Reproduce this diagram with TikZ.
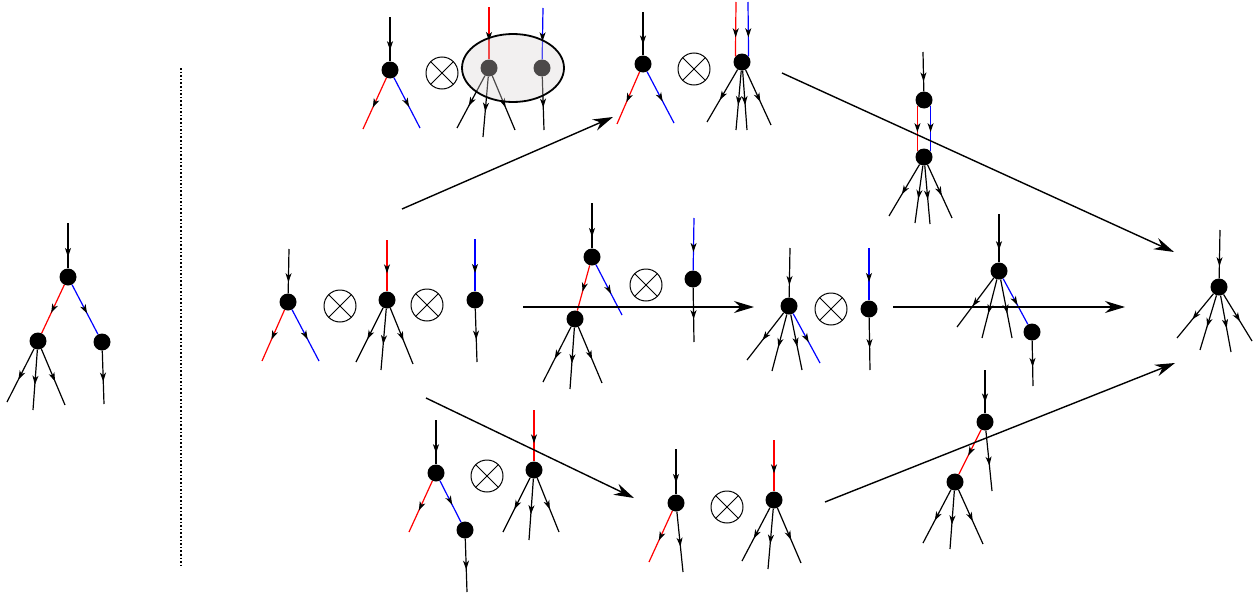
\documentclass[tikz,border=0pt]{standalone}
\usetikzlibrary{arrows.meta,decorations.markings,shapes.geometric}
\tikzset{
 dot/.style={circle,fill=black,inner sep=0pt,minimum size=17pt},
 ed/.style={line width=1.2pt,postaction={decorate},decoration={markings,mark=at position #1 with {\arrow[color=black]{Stealth[length=9pt,width=6pt,inset=2.5pt]}}}},
 ed/.default=0.58,
 edr/.style={ed=#1,draw=red},
 edr/.default=0.58,
 edb/.style={ed=#1,draw=blue},
 edb/.default=0.58,
 ox/.style={circle,draw,line width=1pt,minimum size=32pt,inner sep=0pt,
   path picture={\draw[line width=1pt] (path picture bounding box.north west) -- (path picture bounding box.south east) (path picture bounding box.north east) -- (path picture bounding box.south west);}},
 big/.style={line width=1.4pt,-{Stealth[length=20pt,width=12pt]}},
 blob/.style={ellipse,draw=black,line width=1.8pt,minimum width=102pt,minimum height=68pt,inner sep=0pt,
   fill={rgb,255:red,218;green,212;blue,212},fill opacity=0.35}
}
\begin{document}
\begin{tikzpicture}[x=1pt,y=-1pt]
\useasboundingbox (0,0) rectangle (1259,597);

% ---------- left tree ----------
\node[dot] (L0) at (68,277) {};
\node[dot] (L1) at (38,341) {};
\node[dot] (L2) at (102,342) {};
\coordinate (L0i) at (68,223);
\coordinate (L1a) at (7,402);
\coordinate (L1b) at (33,410);
\coordinate (L1c) at (65,405);
\coordinate (L2a) at (104,404);
\draw[ed=0.75] (L0i) -- (L0);
\draw[edr] (L0) -- (L1);
\draw[edb] (L0) -- (L2);
\draw[ed] (L1) -- (L1a);
\draw[ed] (L1) -- (L1b);
\draw[ed] (L1) -- (L1c);
\draw[ed] (L2) -- (L2a);

% dotted separator
\coordinate (d1) at (181,68);
\coordinate (d2) at (181,567);
\draw[dotted,line width=1.6pt] (d1) -- (d2);

% ---------- top row ----------
% tree A
\node[dot] (A0) at (390,70) {};
\coordinate (Ai) at (390,17);
\coordinate (Ar) at (363,129);
\coordinate (Ab) at (420,128);
\draw[ed=0.75] (Ai) -- (A0);
\draw[edr] (A0) -- (Ar);
\draw[edb] (A0) -- (Ab);
\node[ox] (ox1) at (442,73) {};
% trees under the blob
\node[dot] (P1) at (489,68) {};
\node[dot] (P2) at (542,68) {};
\coordinate (P1i) at (489,7);
\coordinate (P2i) at (543,8);
\coordinate (P1a) at (457,128);
\coordinate (P1b) at (483,137);
\coordinate (P1c) at (515,130);
\coordinate (P2a) at (544,130);
\draw[edr=0.65] (P1i) -- (P1);
\draw[edb=0.65] (P2i) -- (P2);
\draw[ed] (P1) -- (P1a);
\draw[ed] (P1) -- (P1b);
\draw[ed] (P1) -- (P1c);
\draw[ed] (P2) -- (P2a);
\node[blob] (blob) at (513,68) {};

% tree B
\node[dot] (B0) at (643,64) {};
\coordinate (Bi) at (643,12);
\coordinate (Br) at (617,124);
\coordinate (Bb) at (674,123);
\draw[ed=0.75] (Bi) -- (B0);
\draw[edr] (B0) -- (Br);
\draw[edb] (B0) -- (Bb);
\node[ox] (ox2) at (694,69) {};
\node[dot] (B1) at (742,62) {};
\coordinate (B1r) at (736,2);
\coordinate (B1b) at (748,2);
\coordinate (B1a) at (707,122);
\coordinate (B1c) at (736,130);
\coordinate (B1d) at (747,130);
\coordinate (B1e) at (771,125);
\draw[edr=0.65] (B1r) -- (B1.139);
\draw[edb=0.65] (B1b) -- (B1.41);
\draw[ed] (B1) -- (B1a);
\draw[ed] (B1) -- (B1c);
\draw[ed] (B1) -- (B1d);
\draw[ed] (B1) -- (B1e);

% tree C
\node[dot] (C0) at (924,100) {};
\node[dot] (C1) at (924,157) {};
\coordinate (Ci) at (923,52);
\coordinate (C1a) at (889,216);
\coordinate (C1b) at (915,223);
\coordinate (C1c) at (930,224);
\coordinate (C1d) at (952,218);
\draw[ed=0.75] (Ci) -- (C0);
\draw[edr] (C0.221) -- (C1.139);
\draw[edb] (C0.-41) -- (C1.41);
\draw[ed] (C1) -- (C1a);
\draw[ed] (C1) -- (C1b);
\draw[ed] (C1) -- (C1c);
\draw[ed] (C1) -- (C1d);

% ---------- middle row ----------
% tree D
\node[dot] (D0) at (288,302) {};
\coordinate (Di) at (289,249);
\coordinate (Dr) at (262,361);
\coordinate (Db) at (319,361);
\draw[ed=0.75] (Di) -- (D0);
\draw[edr] (D0) -- (Dr);
\draw[edb] (D0) -- (Db);
\node[ox] (ox3) at (340,306) {};
\node[dot] (D1) at (387,300) {};
\coordinate (D1i) at (387,240);
\coordinate (D1a) at (356,362);
\coordinate (D1b) at (381,370);
\coordinate (D1c) at (413,364);
\draw[edr=0.65] (D1i) -- (D1);
\draw[ed] (D1) -- (D1a);
\draw[ed] (D1) -- (D1b);
\draw[ed] (D1) -- (D1c);
\node[ox] (ox4) at (427,305) {};
\node[dot] (D2) at (475,300) {};
\coordinate (D2i) at (475,239);
\coordinate (D2o) at (477,362);
\draw[edb=0.65] (D2i) -- (D2);
\draw[ed] (D2) -- (D2o);

% tree E
\node[dot] (E0) at (592,257) {};
\node[dot] (E1) at (575,319) {};
\coordinate (Ei) at (592,203);
\coordinate (Eb) at (622,315);
\coordinate (E1a) at (543,382);
\coordinate (E1b) at (570,389);
\coordinate (E1c) at (602,383);
\draw[ed=0.75] (Ei) -- (E0);
\draw[edr] (E0) -- (E1);
\draw[edb] (E0) -- (Eb);
\draw[ed] (E1) -- (E1a);
\draw[ed] (E1) -- (E1b);
\draw[ed] (E1) -- (E1c);
\node[ox] (ox5) at (646,285) {};
\node[dot] (E2) at (693,279) {};
\coordinate (E2i) at (694,218);
\coordinate (E2o) at (694,342);
\draw[edb=0.65] (E2i) -- (E2);
\draw[ed] (E2) -- (E2o);

% tree F
\node[dot] (F0) at (789,306) {};
\coordinate (Fi) at (790,248);
\coordinate (Fa) at (747,360);
\coordinate (Fb) at (772,371);
\coordinate (Fc) at (802,370);
\coordinate (Fd) at (820,363);
\draw[ed=0.75] (Fi) -- (F0);
\draw[ed] (F0) -- (Fa);
\draw[ed] (F0) -- (Fb);
\draw[ed] (F0) -- (Fc);
\draw[edb] (F0) -- (Fd);
\node[ox] (ox6) at (831,309) {};
\node[dot] (F1) at (869,309) {};
\coordinate (F1i) at (869,248);
\coordinate (F1o) at (870,370);
\draw[edb=0.65] (F1i) -- (F1);
\draw[ed] (F1) -- (F1o);

% tree G
\node[dot] (G0) at (999,271) {};
\node[dot] (G1) at (1032,332) {};
\coordinate (Gi) at (999,214);
\coordinate (Ga) at (957,327);
\coordinate (Gb) at (982,338);
\coordinate (Gc) at (1012,338);
\coordinate (G1o) at (1033,386);
\draw[ed=0.75] (Gi) -- (G0);
\draw[ed] (G0) -- (Ga);
\draw[ed] (G0) -- (Gb);
\draw[ed] (G0) -- (Gc);
\draw[edb] (G0) -- (G1);
\draw[ed] (G1) -- (G1o);

% final tree
\node[dot] (R0) at (1219,287) {};
\coordinate (Ri) at (1220,230);
\coordinate (Ra) at (1177,338);
\coordinate (Rb) at (1200,350);
\coordinate (Rc) at (1231,352);
\coordinate (Rd) at (1252,341);
\draw[ed=0.75] (Ri) -- (R0);
\draw[ed] (R0) -- (Ra);
\draw[ed] (R0) -- (Rb);
\draw[ed] (R0) -- (Rc);
\draw[ed] (R0) -- (Rd);

% ---------- bottom row ----------
% tree H
\node[dot] (H0) at (436,473) {};
\node[dot] (H1) at (465,530) {};
\coordinate (Hi) at (436,420);
\coordinate (Hr) at (409,532);
\coordinate (H1o) at (467,592);
\draw[ed=0.75] (Hi) -- (H0);
\draw[edr] (H0) -- (Hr);
\draw[edb] (H0) -- (H1);
\draw[ed] (H1) -- (H1o);
\node[ox] (ox7) at (487,476) {};
\node[dot] (H2) at (534,470) {};
\coordinate (H2i) at (534,410);
\coordinate (H2a) at (503,532);
\coordinate (H2b) at (529,540);
\coordinate (H2c) at (559,532);
\draw[edr=0.65] (H2i) -- (H2);
\draw[ed] (H2) -- (H2a);
\draw[ed] (H2) -- (H2b);
\draw[ed] (H2) -- (H2c);

% tree I
\node[dot] (I0) at (676,503) {};
\coordinate (Ii) at (676,449);
\coordinate (Ir) at (649,562);
\coordinate (Ik) at (683,572);
\draw[ed=0.75] (Ii) -- (I0);
\draw[edr] (I0) -- (Ir);
\draw[ed] (I0) -- (Ik);
\node[ox] (ox8) at (727,507) {};
\node[dot] (I1) at (774,500) {};
\coordinate (I1i) at (774,440);
\coordinate (I1a) at (742,561);
\coordinate (I1b) at (768,569);
\coordinate (I1c) at (801,563);
\draw[edr=0.65] (I1i) -- (I1);
\draw[ed] (I1) -- (I1a);
\draw[ed] (I1) -- (I1b);
\draw[ed] (I1) -- (I1c);

% tree J
\node[dot] (J0) at (985,422) {};
\node[dot] (J1) at (955,482) {};
\coordinate (Ji) at (985,370);
\coordinate (Jk) at (992,491);
\coordinate (J1a) at (923,543);
\coordinate (J1b) at (950,549);
\coordinate (J1c) at (983,544);
\draw[ed=0.75] (Ji) -- (J0);
\draw[edr] (J0) -- (J1);
\draw[ed] (J0) -- (Jk);
\draw[ed] (J1) -- (J1a);
\draw[ed] (J1) -- (J1b);
\draw[ed] (J1) -- (J1c);

% ---------- big arrows ----------
\coordinate (a1s) at (402,209); \coordinate (a1e) at (613,117);
\coordinate (a2s) at (782,73);  \coordinate (a2e) at (1174,252);
\coordinate (a3s) at (426,398); \coordinate (a3e) at (634,498);
\coordinate (a4s) at (825,502); \coordinate (a4e) at (1175,363);
\coordinate (a5s) at (523,307); \coordinate (a5e) at (754,307);
\coordinate (a6s) at (893,307); \coordinate (a6e) at (1125,307);
\draw[big] (a1s) -- (a1e);
\draw[big] (a2s) -- (a2e);
\draw[big] (a3s) -- (a3e);
\draw[big] (a4s) -- (a4e);
\draw[big] (a5s) -- (a5e);
\draw[big] (a6s) -- (a6e);
\end{tikzpicture}
\end{document}
